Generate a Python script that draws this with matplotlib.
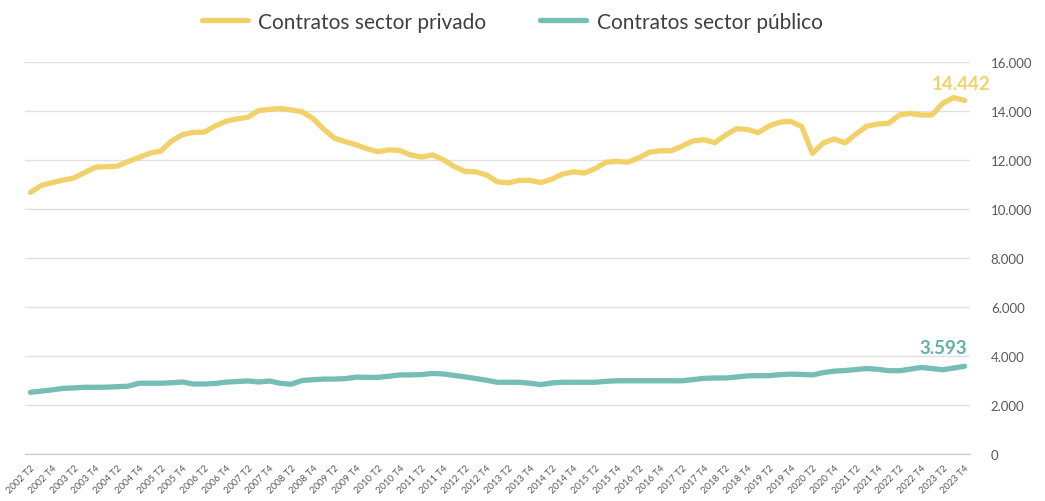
import matplotlib
matplotlib.use("Agg")
import matplotlib.pyplot as plt

plt.rcParams['font.family'] = ['Lato', 'DejaVu Sans']

# Trimestres 2002 T2 - 2023 T4
anios = list(range(2002, 2024))
trimestres = [f"{a} T{t}" for a in anios for t in (1, 2, 3, 4)][1:]

privado = [
    10690, 10970, 11090, 11190, 11280, 11500, 11720, 11740, 11760, 11950,
    12120, 12290, 12380, 12790, 13050, 13140, 13150, 13400, 13590, 13690,
    13750, 14030, 14080, 14110, 14060, 13980, 13710, 13270, 12900, 12760,
    12630, 12470, 12350, 12430, 12400, 12220, 12130, 12220, 12030, 11750,
    11550, 11530, 11400, 11120, 11080, 11180, 11180, 11090, 11230, 11440,
    11530, 11480, 11660, 11920, 11960, 11920, 12100, 12330, 12390, 12390,
    12580, 12790, 12840, 12720, 13030, 13290, 13260, 13130, 13400, 13560,
    13590, 13380, 12280, 12710, 12870, 12710, 13070, 13390, 13480, 13510,
    13850, 13910, 13850, 13850, 14330, 14560, 14442,
]

publico = [
    2530, 2580, 2630, 2690, 2710, 2735, 2735, 2740, 2760, 2780,
    2900, 2900, 2900, 2920, 2950, 2870, 2870, 2890, 2945, 2970,
    2995, 2950, 2990, 2900, 2860, 3010, 3045, 3070, 3070, 3090,
    3150, 3140, 3140, 3185, 3240, 3240, 3255, 3300, 3280, 3220,
    3160, 3095, 3020, 2940, 2940, 2940, 2900, 2845, 2910, 2940,
    2940, 2940, 2940, 2980, 3000, 3000, 3000, 3000, 3000, 3000,
    3000, 3050, 3100, 3115, 3115, 3155, 3200, 3210, 3210, 3250,
    3275, 3260, 3240, 3335, 3395, 3420, 3460, 3500, 3470, 3415,
    3410, 3475, 3545, 3500, 3450, 3520, 3593,
]

amarillo = '#F2D16B'
verde = '#76BDB5'
gris = '#595959'

fig = plt.figure(figsize=(10.45, 5.02), dpi=100)
ax = fig.add_axes([25 / 1045, 1 - 455.3 / 502, 945 / 1045, (455.3 - 63.3) / 502])

x = list(range(len(trimestres)))
ax.plot(x, privado, color=amarillo, lw=3.8, solid_capstyle='round', solid_joinstyle='round',
        label='Contratos sector privado')
ax.plot(x, publico, color=verde, lw=3.8, solid_capstyle='round', solid_joinstyle='round',
        label='Contratos sector público')

ax.set_xlim(-0.5, len(trimestres) - 0.5)
ax.set_ylim(0, 16000)
ax.set_yticks(range(0, 16001, 2000))
ax.set_yticklabels([f"{v:,}".replace(',', '.') for v in range(0, 16001, 2000)])
ax.yaxis.tick_right()
ax.tick_params(axis='y', length=0, pad=15, labelsize=9.5, labelcolor=gris)
for lab in ax.get_yticklabels():
    lab.set_horizontalalignment('left')

ax.set_xticks(x[::2])
ax.set_xticklabels(trimestres[::2], rotation=45, ha='right', rotation_mode='anchor')
ax.tick_params(axis='x', length=0, pad=6, labelsize=6.8, labelcolor=gris)

ax.grid(axis='y', color='#E0E0E0', lw=1)
ax.set_axisbelow(True)
for s in ['top', 'right', 'left']:
    ax.spines[s].set_visible(False)
ax.spines['bottom'].set_color('#C8C8C8')

ax.text(x[-1] - 0.3, privado[-1] + 350, f"{privado[-1]:,}".replace(',', '.'), color=amarillo,
        fontsize=13.5, fontweight='bold', ha='center', va='bottom')
ax.text(x[-1] - 2.0, publico[-1] + 400, f"{publico[-1]:,}".replace(',', '.'), color='#62B1A8',
        fontsize=13.5, fontweight='bold', ha='center', va='bottom')

fig.legend(loc='upper center', bbox_to_anchor=(0.49, 1.012), ncol=2, frameon=False,
           fontsize=15, labelcolor='#404040', handlelength=2.2, columnspacing=2.6,
           handletextpad=0.5)

fig.savefig('out.png', dpi=100)
